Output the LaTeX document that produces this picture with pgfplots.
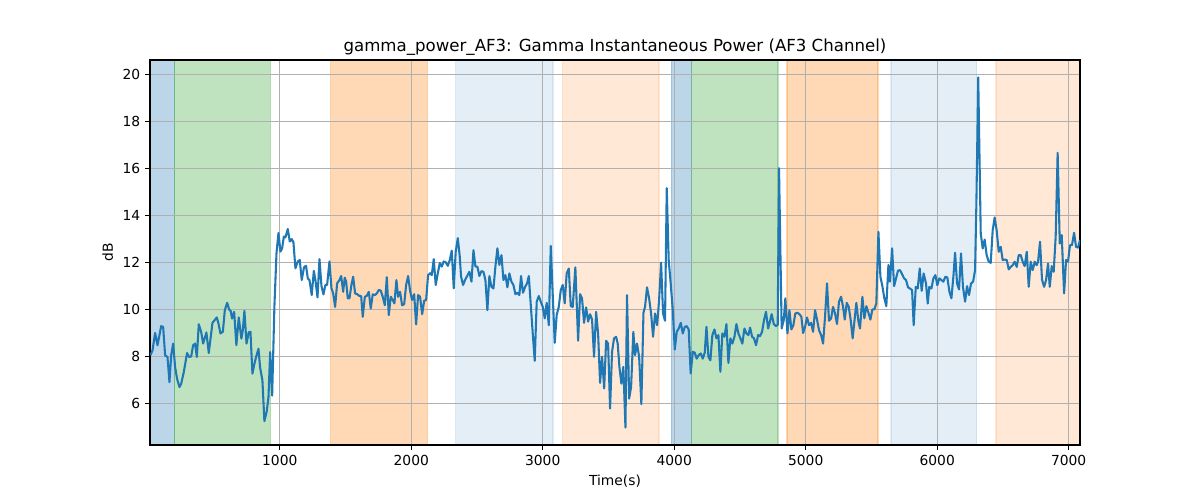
\documentclass[border=0pt]{standalone}
\usepackage{fontspec}
\setmainfont{DejaVu Sans}
\usepackage{pgfplots}
\usepackage{pgfplotstable}
\pgfplotsset{compat=1.18}
\definecolor{tabblue}{HTML}{1F77B4}
\definecolor{taborange}{HTML}{FF7F0E}
\definecolor{tabgreen}{HTML}{2CA02C}
\definecolor{gridgray}{HTML}{B0B0B0}
\pgfplotstableread{
t v
16 8.05
32 8.26
52 9.0
70 8.48
98 9.29
113 9.26
128 8.05
146 7.98
161 6.91
174 8.05
189 8.55
204 7.55
219 7.05
237 6.7
250 6.84
270 7.34
295 8.15
310 7.98
326 8.0
341 8.48
356 8.55
369 7.98
384 9.37
402 9.05
417 8.55
442 9.02
460 8.15
488 9.43
521 9.66
534 9.4
549 8.98
567 9.05
582 9.97
600 10.28
615 10.0
627 9.93
637 9.61
653 9.9
670 8.48
688 9.66
708 8.76
719 9.12
731 9.94
747 8.55
764 9.03
777 9.05
792 7.27
807 7.69
820 7.98
838 8.33
850 7.55
868 6.98
883 5.25
901 5.68
914 6.27
927 8.19
942 6.34
959 10.11
975 12.39
990 13.25
1005 12.46
1018 12.6
1031 13.1
1043 13.06
1061 13.42
1076 12.89
1091 12.99
1104 12.85
1119 11.75
1137 12.04
1152 12.1
1167 11.25
1183 11.75
1188 11.82
1200 11.85
1213 11.32
1226 11.25
1243 10.61
1259 11.64
1271 11.25
1287 10.51
1302 12.14
1317 11.0
1332 10.64
1347 11.04
1360 11.04
1378 12.04
1393 10.9
1406 10.68
1421 10.11
1436 11.11
1454 11.25
1467 11.42
1482 10.75
1494 11.35
1505 11.18
1517 10.47
1530 10.47
1545 11.04
1558 11.39
1573 10.68
1588 10.65
1606 10.57
1619 10.57
1631 9.69
1647 10.54
1662 10.58
1677 10.75
1692 10.04
1707 10.64
1723 10.61
1738 10.68
1753 10.83
1768 10.8
1783 10.54
1799 10.18
1814 11.37
1829 9.76
1844 10.54
1859 10.4
1872 10.26
1887 11.25
1900 10.54
1915 10.75
1930 10.18
1946 10.22
1961 11.04
1976 11.42
1991 10.8
2006 10.4
2022 10.65
2037 9.36
2052 10.61
2067 10.54
2083 9.8
2098 10.37
2113 10.4
2128 11.46
2143 11.54
2156 11.46
2171 12.14
2186 11.04
2202 11.54
2217 11.97
2232 11.82
2247 12.04
2263 12.0
2278 11.85
2293 12.1
2308 12.5
2323 10.9
2338 12.46
2354 13.03
2368 12.3
2379 11.39
2394 11.04
2409 11.25
2425 11.42
2442 11.6
2458 11.18
2473 12.52
2488 11.82
2503 11.82
2518 11.42
2534 11.63
2549 11.6
2564 11.25
2579 9.97
2594 11.42
2610 10.96
2625 10.89
2640 11.82
2655 12.6
2670 11.89
2686 12.31
2701 11.25
2716 11.46
2731 10.94
2746 11.53
2762 11.18
2777 11.04
2792 10.65
2807 10.71
2822 10.61
2835 11.42
2850 10.71
2866 10.96
2881 11.11
2894 11.42
2909 10.18
2924 8.98
2939 7.82
2954 10.33
2970 10.57
2985 10.33
3000 10.11
3015 9.62
3030 10.28
3046 9.33
3061 12.7
3076 10.61
3091 8.58
3106 9.76
3122 10.11
3137 10.82
3152 11.04
3167 10.26
3182 11.53
3198 11.74
3213 10.14
3228 10.11
3248 11.79
3269 8.67
3284 10.65
3299 10.47
3314 9.43
3330 10.09
3345 9.48
3360 9.8
3375 9.57
3390 7.99
3406 9.9
3421 8.98
3436 6.88
3451 7.99
3467 6.64
3482 8.67
3497 8.55
3512 5.79
3527 8.2
3542 8.77
3558 8.84
3570 8.55
3583 7.56
3598 6.85
3613 7.56
3629 4.98
3641 10.61
3657 6.21
3672 6.71
3689 9.05
3702 8.06
3717 8.55
3733 7.99
3750 5.97
3766 9.86
3778 10.11
3793 10.94
3809 10.47
3824 9.83
3839 8.84
3854 9.83
3870 9.33
3885 10.4
3900 11.99
3915 9.83
3930 9.52
3943 15.15
3958 12.1
3973 11.11
3989 9.97
4004 8.3
4019 9.05
4034 9.19
4050 9.43
4065 8.98
4080 9.26
4095 9.29
4110 9.15
4125 7.28
4141 8.2
4156 8.16
4171 7.91
4186 8.06
4202 8.13
4217 7.91
4232 8.16
4245 9.26
4260 7.99
4275 7.84
4290 8.91
4306 9.15
4321 8.77
4336 8.91
4351 7.35
4366 8.98
4382 8.84
4397 9.38
4412 7.73
4427 8.77
4442 8.55
4458 8.84
4473 9.38
4488 8.98
4503 8.77
4518 8.55
4534 9.19
4549 8.98
4564 8.91
4577 9.23
4592 8.84
4607 8.77
4622 8.48
4638 8.91
4653 8.87
4668 9.05
4683 9.55
4698 9.9
4714 9.19
4724 9.4
4741 9.8
4757 9.38
4774 9.29
4787 9.35
4797 16.0
4817 9.19
4833 9.55
4845 10.47
4861 8.98
4876 9.97
4891 9.15
4906 9.33
4921 9.83
4937 9.86
4952 9.8
4967 9.69
4980 9.0
4995 9.26
5010 9.66
5025 9.33
5041 9.43
5056 9.05
5071 9.97
5086 9.57
5101 9.12
5117 8.91
5132 8.55
5147 9.69
5162 11.11
5177 9.52
5193 9.62
5208 10.11
5223 9.83
5238 9.38
5253 10.33
5269 10.54
5284 10.11
5297 9.57
5312 10.28
5327 10.11
5342 9.55
5357 8.77
5370 9.48
5385 10.28
5401 9.48
5413 9.19
5431 10.54
5446 9.62
5461 10.14
5477 9.86
5492 9.57
5507 10.0
5522 10.0
5537 10.26
5553 13.3
5568 11.39
5583 10.99
5598 10.47
5613 10.14
5629 11.89
5641 11.18
5657 12.6
5672 10.99
5687 11.32
5702 11.65
5717 11.67
5733 11.5
5748 11.32
5763 11.25
5778 10.94
5793 10.89
5809 10.82
5821 9.33
5837 10.96
5852 10.89
5867 11.74
5882 10.79
5897 11.53
5915 11.1
5928 10.25
5940 10.96
5956 10.89
5971 11.32
5986 11.46
6001 11.03
6016 11.32
6032 11.25
6047 11.18
6062 11.39
6077 11.36
6093 10.75
6108 10.47
6123 11.39
6136 12.41
6151 11.1
6166 10.85
6181 12.38
6196 10.96
6212 10.33
6227 10.99
6242 10.61
6257 11.1
6273 11.18
6288 11.67
6298 14.5
6312 19.86
6331 13.23
6346 12.59
6361 12.97
6376 12.31
6392 12.03
6407 11.98
6422 13.37
6437 13.91
6452 13.37
6468 12.45
6483 12.66
6498 12.1
6513 12.12
6529 12.1
6544 11.7
6559 11.81
6574 11.88
6589 12.03
6605 11.81
6620 12.31
6635 12.31
6650 12.03
6665 11.84
6681 12.45
6696 10.96
6711 12.03
6726 11.67
6742 12.03
6757 11.88
6767 12.03
6782 12.88
6797 11.27
6813 10.96
6828 11.25
6843 11.95
6856 10.96
6871 11.84
6886 11.6
6901 13.09
6916 16.66
6932 12.8
6947 13.16
6965 10.68
6980 12.1
6995 12.03
7010 12.73
7025 12.73
7041 13.26
7056 12.66
7071 12.63
7086 12.95
}\datatable
\pgfplotsset{
  spanblue/.style={on layer=axis background, forget plot, fill=tabblue, draw=tabblue, fill opacity=0.3, draw opacity=0.3, line width=1pt},
  spangreen/.style={on layer=axis background, forget plot, fill=tabgreen, draw=tabgreen, fill opacity=0.3, draw opacity=0.3, line width=1pt},
  spanorange/.style={on layer=axis background, forget plot, fill=taborange, draw=taborange, fill opacity=0.3, draw opacity=0.3, line width=1pt},
  spanlblue/.style={on layer=axis background, forget plot, fill=tabblue, draw=tabblue, fill opacity=0.12, draw opacity=0.12, line width=1pt},
  spanlorange/.style={on layer=axis background, forget plot, fill=taborange, draw=taborange, fill opacity=0.17, draw opacity=0.17, line width=1pt},
}
\begin{document}
\begin{tikzpicture}
\begin{axis}[
  set layers,
  at={(0,0)}, anchor=south west,
  scale only axis, width=9.3in, height=3.85in,
  xmin=13, xmax=7086, ymin=4.24, ymax=20.6,
  xtick={1000,2000,3000,4000,5000,6000,7000},
  ytick={6,8,10,12,14,16,18,20},
  grid=major, grid style={gridgray, line width=0.8pt},
  axis line style={line width=0.8pt},
  tick style={black, line width=0.8pt}, major tick length=3.5pt, tick align=outside,
  xtick pos=bottom, ytick pos=left,
  /pgf/number format/assume math mode=true,
  /pgf/number format/1000 sep={},
  ticklabel style={font=\fontsize{10}{12}\selectfont},
  title={gamma\_power\_AF3: Gamma Instantaneous Power (AF3 Channel)},
  title style={font=\fontsize{12}{14}\selectfont, yshift=-6.5pt},
  xlabel={Time(s)}, ylabel={dB},
  label style={font=\fontsize{10}{12}\selectfont},
]
\addplot[spanblue] coordinates {(13,4.24) (13,20.6) (197,20.6) (197,4.24) (13,4.24)};
\addplot[spangreen] coordinates {(197,4.24) (197,20.6) (929,20.6) (929,4.24) (197,4.24)};
\addplot[spanorange] coordinates {(1387,4.24) (1387,20.6) (2122,20.6) (2122,4.24) (1387,4.24)};
\addplot[spanlblue] coordinates {(2337,4.24) (2337,20.6) (3079,20.6) (3079,4.24) (2337,4.24)};
\addplot[spanlorange] coordinates {(3150,4.24) (3150,20.6) (3885,20.6) (3885,4.24) (3150,4.24)};
\addplot[spanblue] coordinates {(3978,4.24) (3978,20.6) (4132,20.6) (4132,4.24) (3978,4.24)};
\addplot[spangreen] coordinates {(4132,4.24) (4132,20.6) (4789,20.6) (4789,4.24) (4132,4.24)};
\addplot[spanorange] coordinates {(4859,4.24) (4859,20.6) (5549,20.6) (5549,4.24) (4859,4.24)};
\addplot[spanlblue] coordinates {(5650,4.24) (5650,20.6) (6301,20.6) (6301,4.24) (5650,4.24)};
\addplot[spanlorange] coordinates {(6447,4.24) (6447,20.6) (7086,20.6) (7086,4.24) (6447,4.24)};
\addplot[tabblue, line width=1.5pt, line join=round] table[x=t, y=v] {\datatable};
\end{axis}
\path (-1.5in,-0.55in) rectangle (10.5in,4.45in);
\end{tikzpicture}
\end{document}
